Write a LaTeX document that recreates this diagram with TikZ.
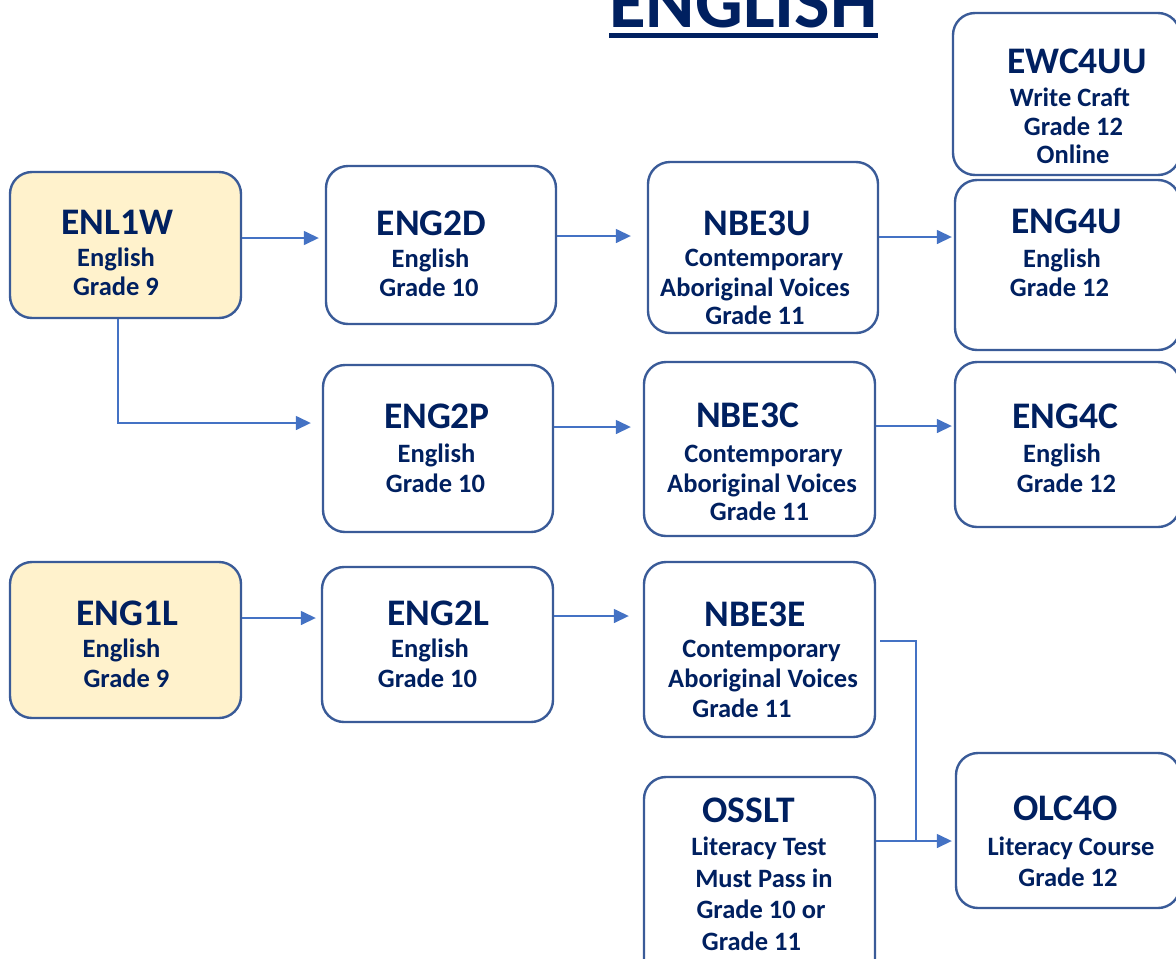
\documentclass[tikz,border=0pt]{standalone}
\usepackage{fontspec}
\setmainfont{Carlito}
\usetikzlibrary{arrows.meta}
\definecolor{navy}{HTML}{002060}
\definecolor{boxline}{HTML}{3A5B98}
\definecolor{arrowc}{HTML}{4472C4}
\definecolor{paleyel}{HTML}{FFF2CC}
\tikzset{
  box/.style={draw=boxline, line width=2.4pt, rounded corners=22pt, fill=white, inner sep=0pt},
  yelbox/.style={box, fill=paleyel},
  ln/.style={anchor=base, inner sep=0pt, text=navy, font=\bfseries\fontsize{26.5}{30}\selectfont},
  cd/.style={anchor=base, inner sep=0pt, text=navy, font=\bfseries\fontsize{37.5}{40}\selectfont},
  conn/.style={draw=arrowc, line width=1.5pt},
  arr/.style={conn, -{Triangle[length=15pt,width=14pt]}}
}
\newcommand\Ln[4]{\node[ln] (#1) at (#2,#3) {#4};}
\newcommand\Cd[4]{\node[cd] (#1) at (#2,#3) {#4};}
\newcommand\Bx[6]{\node[#1, minimum width={#4-#2}, minimum height={#5-#3}] (#6) at ({(#2+#4)/2},{(#3+#5)/2}) {};}
\begin{document}
\begin{tikzpicture}[x=1pt,y=-1pt]
\useasboundingbox (0,0) rectangle (1176,959);
\clip (0,0) rectangle (1176,959);
\fill[white] (0,0) rectangle (1176,959);
% title
\node[anchor=base, inner sep=0pt, text=navy, font=\bfseries\fontsize{75}{80}\selectfont] (title) at (743.5,27) {ENGLISH};
\draw[navy, line width=4.5pt] ([yshift=-8.5pt]title.base west) -- ([yshift=-8.5pt]title.base east);
% boxes
\Bx{yelbox}{10}{172}{241}{318}{enl1w}
\Bx{box}{326}{166}{556}{324}{eng2d}
\Bx{box}{648}{162}{878}{333}{nbe3u}
\Bx{box}{953}{13}{1180}{175}{ewc4uu}
\Bx{box}{955}{180}{1180}{350}{eng4u}
\Bx{box}{323}{365}{553}{532}{eng2p}
\Bx{box}{644}{362}{875}{536}{nbe3c}
\Bx{box}{955}{362}{1180}{527}{eng4c}
\Bx{yelbox}{10}{562}{241}{718}{eng1l}
\Bx{box}{322}{567}{553}{722}{eng2l}
\Bx{box}{644}{562}{875}{737}{nbe3e}
\Bx{box}{644}{777}{875}{995}{osslt}
\Bx{box}{956}{753}{1180}{908}{olc4o}
% texts
\Cd{t1a}{117.5}{234}{ENL1W}
\Ln{t1b}{116}{266}{English}
\Ln{t1c}{116}{295}{Grade 9}
\Cd{t2a}{431.5}{235}{ENG2D}
\Ln{t2b}{430.5}{267}{English}
\Ln{t2c}{429}{296}{Grade 10}
\Cd{t3a}{757.5}{235}{NBE3U}
\Ln{t3b}{764}{266}{Contemporary}
\Ln{t3c}{755}{296}{Aboriginal Voices}
\Ln{t3d}{755}{324}{Grade 11}
\Cd{t4a}{1077}{73}{EWC4UU}
\Ln{t4b}{1070}{106}{Write Craft}
\Ln{t4c}{1073.5}{135}{Grade 12}
\Ln{t4d}{1073}{163}{Online}
\Cd{t5a}{1066.5}{233}{ENG4U}
\Ln{t5b}{1062}{267}{English}
\Ln{t5c}{1059.5}{296}{Grade 12}
\Cd{t6a}{437}{428}{ENG2P}
\Ln{t6b}{436.5}{462}{English}
\Ln{t6c}{435.5}{492}{Grade 10}
\Cd{t7a}{747.5}{427}{NBE3C}
\Ln{t7b}{763.5}{462}{Contemporary}
\Ln{t7c}{762}{492}{Aboriginal Voices}
\Ln{t7d}{759.5}{520}{Grade 11}
\Cd{t8a}{1065.5}{428}{ENG4C}
\Ln{t8b}{1062}{462}{English}
\Ln{t8c}{1066.5}{492}{Grade 12}
\Cd{t9a}{127.5}{625}{ENG1L}
\Ln{t9b}{121.5}{657}{English}
\Ln{t9c}{126.5}{687}{Grade 9}
\Cd{t10a}{438.5}{625}{ENG2L}
\Ln{t10b}{430}{657}{English}
\Ln{t10c}{427.5}{687}{Grade 10}
\Cd{t11a}{755}{626}{NBE3E}
\Ln{t11b}{761.5}{657}{Contemporary}
\Ln{t11c}{763}{687}{Aboriginal Voices}
\Ln{t11d}{742}{717}{Grade 11}
\Cd{t12a}{748.5}{822}{OSSLT}
\Ln{t12b}{759}{855}{Literacy Test}
\Ln{t12c}{764}{887}{Must Pass in}
\Ln{t12d}{761}{918}{Grade 10 or}
\Ln{t12e}{751.5}{950}{Grade 11}
\Cd{t13a}{1065.5}{820}{OLC4O}
\Ln{t13b}{1071}{855}{Literacy Course}
\Ln{t13c}{1068}{886}{Grade 12}
% connectors
\draw[arr, shorten >=6pt] (enl1w.east |- 0,238) -- (eng2d.west |- 0,238);
\draw[arr, shorten >=16pt] (eng2d.east |- 0,236) -- (nbe3u.west |- 0,236);
\draw[arr, shorten >=2pt] (nbe3u.east |- 0,237) -- (eng4u.west |- 0,237);
\draw[arr, shorten >=11pt] (enl1w.south -| 118,0) |- (eng2p.west |- 0,423);
\draw[arr, shorten >=12pt] (eng2p.east |- 0,427) -- (nbe3c.west |- 0,427);
\draw[arr, shorten >=2pt] (nbe3c.east |- 0,426) -- (eng4c.west |- 0,426);
\draw[arr, shorten >=5pt] (eng1l.east |- 0,618) -- (eng2l.west |- 0,618);
\draw[arr, shorten >=14pt] (eng2l.east |- 0,616) -- (nbe3e.west |- 0,616);
\coordinate (j) at (916,841);
\draw[conn] ([xshift=4pt]nbe3e.east |- 0,641) -| (j);
\draw[arr, shorten >=3pt] (osslt.east |- j) -- (olc4o.west |- j);
\end{tikzpicture}
\end{document}
